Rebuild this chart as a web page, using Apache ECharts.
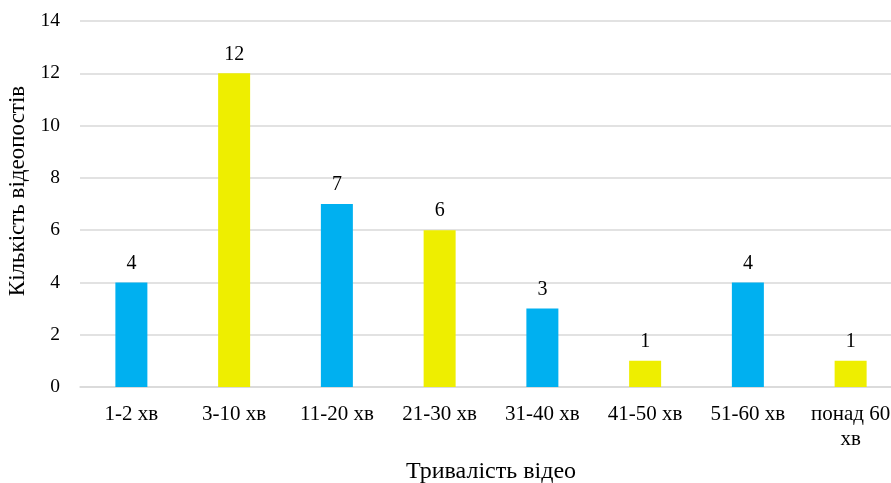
<!DOCTYPE html>
<html>
<head>
<meta charset="utf-8">
<script src="https://cdn.jsdelivr.net/npm/echarts@6/dist/echarts.min.js"></script>
<style>
  html, body { margin: 0; padding: 0; background: #fff; }
  #chart { width: 891px; height: 483px; }
</style>
</head>
<body>
<div id="chart"></div>
<script>
// Video duration buckets and number of video posts in each
const categories = ['1-2 хв', '3-10 хв', '11-20 хв', '21-30 хв', '31-40 хв', '41-50 хв', '51-60 хв', 'понад 60\nхв'];
const counts = [4, 12, 7, 6, 3, 1, 4, 1];
const barColors = ['#00B0F0', '#EEEE00'];
const yTicks = { min: 0, max: 14, interval: 2 };

const font = 'Liberation Serif, Times New Roman, serif';

const chart = echarts.init(document.getElementById('chart'), null, { renderer: 'canvas' });
chart.setOption({
  animation: false,
  backgroundColor: '#fff',
  grid: {
    left: 80, top: 21, width: 822, height: 366,
    containLabel: false,
    outerBoundsMode: 'none'
  },
  xAxis: {
    type: 'category',
    data: categories,
    name: 'Тривалість відео',
    nameLocation: 'middle',
    nameGap: 73,
    nameTextStyle: { fontFamily: font, fontSize: 24, color: '#000' },
    axisLine: { lineStyle: { color: '#d9d9d9', width: 1.5 } },
    axisTick: { show: false },
    axisLabel: { fontFamily: font, fontSize: 21, color: '#000', margin: 15, lineHeight: 25, interval: 0 }
  },
  yAxis: {
    type: 'value',
    min: yTicks.min,
    max: yTicks.max,
    interval: yTicks.interval,
    name: 'Кількість відеопостів',
    nameLocation: 'middle',
    nameGap: 50,
    nameTextStyle: { fontFamily: font, fontSize: 23, color: '#000', padding: [0, 0, 0, 26] },
    axisLine: { show: false },
    axisTick: { show: false },
    axisLabel: { fontFamily: font, fontSize: 19.5, color: '#000', margin: 20 },
    splitLine: { lineStyle: { color: '#d9d9d9', width: 1.5 } }
  },
  series: [{
    type: 'bar',
    barWidth: 32,
    data: counts.map((v, i) => ({ value: v, itemStyle: { color: barColors[i % 2] } })),
    label: {
      show: true,
      position: 'top',
      distance: 9,
      fontFamily: font,
      fontSize: 20,
      color: '#000'
    }
  }]
});
</script>
</body>
</html>
